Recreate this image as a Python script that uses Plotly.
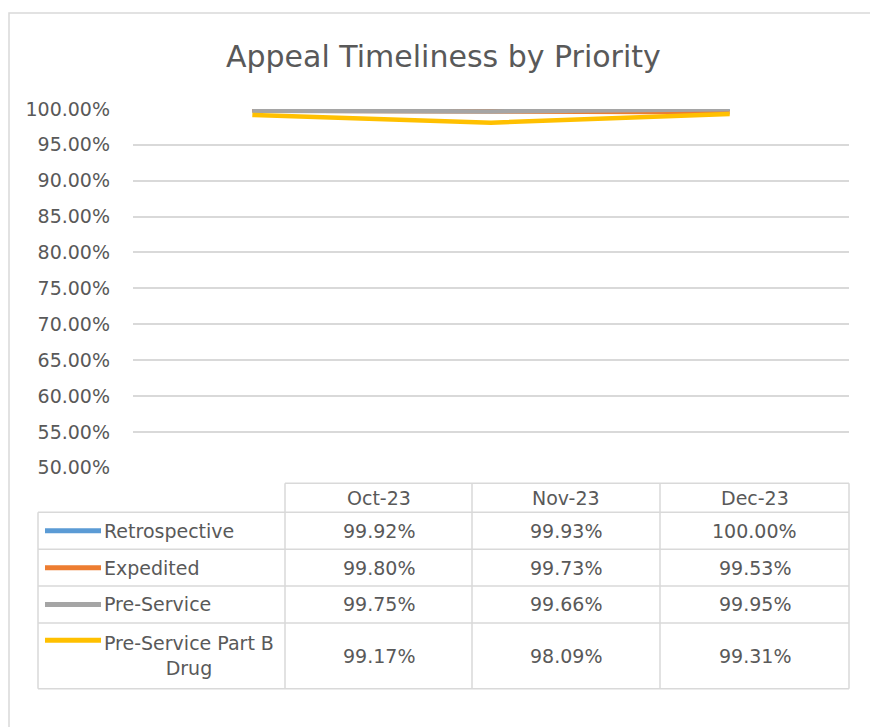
import plotly.graph_objects as go

# chart data
months = ["Oct-23", "Nov-23", "Dec-23"]
series_names = ["Retrospective", "Expedited", "Pre-Service", "Pre-Service Part B<br>Drug"]
retrospective = [0.9992, 0.9993, 1.0000]
expedited = [0.9980, 0.9973, 0.9953]
pre_service = [0.9975, 0.9966, 0.9995]
part_b_drug = [0.9917, 0.9809, 0.9931]
series_values = [retrospective, expedited, pre_service, part_b_drug]
colors = ["#5B9BD5", "#ED7D31", "#A5A5A5", "#FFC000"]
y_ticks = [0.50 + 0.05 * i for i in range(11)]

W, H = 870, 727
TXT = "#595959"
GRID = "#D9D9D9"
FONT = "DejaVu Sans"


def px(x):
    return x / W


def py(y):
    return 1 - y / H


fig = go.Figure()
for name, vals, col in zip(series_names, series_values, colors):
    fig.add_trace(go.Scatter(x=months, y=vals, name=name.replace("<br>", " "),
                             mode="lines", line=dict(color=col, width=4.5)))

shapes = []
annots = []

# outer chart border (only left/top visible)
shapes.append(dict(type="rect", xref="paper", yref="paper", x0=px(9), x1=px(900),
                   y0=py(760), y1=py(2), line=dict(color=GRID, width=1.5)))

# data table geometry (px)
col_edges = [285, 472, 660, 849]
tbl_left = 38
header_top, header_bot = 487, 517
row_edges = [517, 555, 593, 631, 699]

line = dict(color=GRID, width=1.5)
shapes.append(dict(type="line", xref="paper", yref="paper", x0=px(col_edges[0]), x1=px(col_edges[-1]),
                   y0=py(header_top), y1=py(header_top), line=line))
for yy in row_edges:
    shapes.append(dict(type="line", xref="paper", yref="paper", x0=px(tbl_left), x1=px(col_edges[-1]),
                       y0=py(yy), y1=py(yy), line=line))
for xx in col_edges:
    shapes.append(dict(type="line", xref="paper", yref="paper", x0=px(xx), x1=px(xx),
                       y0=py(header_top), y1=py(row_edges[-1]), line=line))
shapes.append(dict(type="line", xref="paper", yref="paper", x0=px(tbl_left), x1=px(tbl_left),
                   y0=py(row_edges[0]), y1=py(row_edges[-1]), line=line))

tfont = dict(family=FONT, size=19, color=TXT)
for j, m in enumerate(months):
    cx = (col_edges[j] + col_edges[j + 1]) / 2
    annots.append(dict(x=px(cx), y=py((header_top + header_bot) / 2), xref="paper", yref="paper",
                       text=m, showarrow=False, font=tfont, xanchor="center", yanchor="middle"))

for i, (name, vals, col) in enumerate(zip(series_names, series_values, colors)):
    cy = (row_edges[i] + row_edges[i + 1]) / 2
    key_y = cy if "<br>" not in name else row_edges[i] + 18
    shapes.append(dict(type="line", xref="paper", yref="paper", x0=px(45), x1=px(101),
                       y0=py(key_y), y1=py(key_y), line=dict(color=col, width=5)))
    annots.append(dict(x=px(102), y=py(cy), xref="paper", yref="paper", text=name,
                       showarrow=False, font=tfont, xanchor="left", yanchor="middle", align="center"))
    for j, v in enumerate(vals):
        cx = (col_edges[j] + col_edges[j + 1]) / 2
        annots.append(dict(x=px(cx), y=py(cy), xref="paper", yref="paper", text=f"{v*100:.2f}%",
                           showarrow=False, font=tfont, xanchor="center", yanchor="middle"))

annots.append(dict(x=px(443), y=py(47), xref="paper", yref="paper", text="Appeal Timeliness by Priority",
                   showarrow=False, font=dict(family=FONT, size=30, color=TXT),
                   xanchor="center", yanchor="middle"))

fig.update_layout(
    width=W, height=H,
    margin=dict(l=0, r=0, t=0, b=0),
    paper_bgcolor="white", plot_bgcolor="white",
    showlegend=False,
    shapes=shapes, annotations=annots,
    xaxis=dict(domain=[px(133), px(849)], range=[-0.5, 2.5], showticklabels=False,
               showgrid=False, zeroline=False, showline=False, ticks=""),
    yaxis=dict(domain=[py(471), py(101)], range=[0.5, 1.0], tickvals=y_ticks,
               tickformat=".2%", tickfont=dict(family=FONT, size=19, color=TXT),
               showgrid=True, gridcolor=GRID, gridwidth=1.5, zeroline=False,
               showline=False, ticks="", ticklabelstandoff=22),
)

# drop the default 8px page margin so the figure sits at the window origin
fig.write_html("out.html", config={"displayModeBar": False},
               post_script="document.body.style.margin='0';")
